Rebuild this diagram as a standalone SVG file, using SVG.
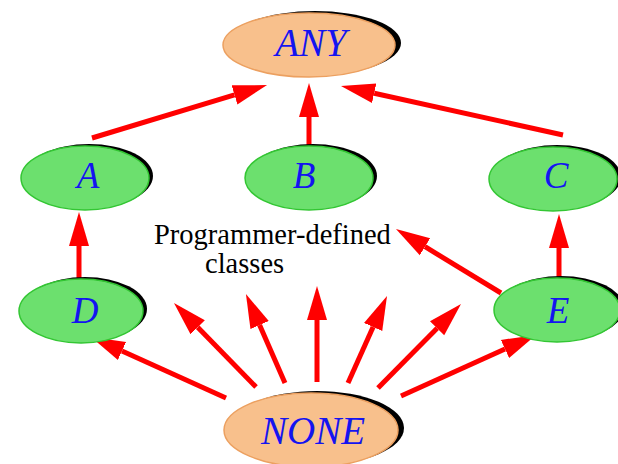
<svg xmlns="http://www.w3.org/2000/svg" width="618" height="464" viewBox="0 0 618 464">
<style>
.shadow{fill:#000}
.green{fill:#6ce06e;stroke:#33c633;stroke-width:1.5}
.orange{fill:#f8c08c;stroke:#eca060;stroke-width:1.5}
.lbl{font-family:"Liberation Serif","Times New Roman",serif;font-style:italic;fill:#1414f0;text-anchor:middle}
.small{font-size:37px}
.big{font-size:39px}
.note{font-family:"Liberation Serif","Times New Roman",serif;font-size:28.5px;fill:#000}
.arr{stroke:#ff0000;stroke-width:5;fill:none;marker-end:url(#head)}
</style>
<defs>
<marker id="head" markerUnits="userSpaceOnUse" markerWidth="40" markerHeight="24" viewBox="0 -12 40 24" refX="0" refY="0" orient="auto">
<path d="M0,-10 L34,0 L0,10 z" fill="#ff0000"/>
</marker>
</defs>
<g id="connectors">
<line class="arr" x1="92" y1="138" x2="234.5" y2="94.9"/>
<line class="arr" x1="309" y1="146" x2="309" y2="117"/>
<line class="arr" x1="563" y1="135" x2="374.2" y2="93.3"/>
<line class="arr" x1="79" y1="278" x2="79" y2="246"/>
<line class="arr" x1="559" y1="280" x2="559" y2="248"/>
<line class="arr" x1="501" y1="293" x2="425" y2="246.7"/>
<line class="arr" x1="226" y1="398" x2="122" y2="351"/>
<line class="arr" x1="256" y1="387" x2="197.7" y2="327.3"/>
<line class="arr" x1="285" y1="383" x2="259.6" y2="325.1"/>
<line class="arr" x1="317" y1="382" x2="317" y2="320"/>
<line class="arr" x1="348" y1="383" x2="373.1" y2="327"/>
<line class="arr" x1="378" y1="388" x2="437.1" y2="328.2"/>
<line class="arr" x1="401" y1="396" x2="505" y2="349"/>
</g>
<g id="ANY">
<ellipse class="shadow" cx="315" cy="43" rx="86" ry="32"/>
<ellipse class="orange" cx="309" cy="45" rx="86" ry="32"/>
<text class="lbl big" x="311" y="56">ANY</text>
</g>
<g id="A">
<ellipse class="shadow" cx="89" cy="176" rx="64" ry="32"/>
<ellipse class="green" cx="85" cy="178" rx="64" ry="32"/>
<text class="lbl small" x="88" y="188">A</text>
</g>
<g id="B">
<ellipse class="shadow" cx="313" cy="176" rx="64" ry="32"/>
<ellipse class="green" cx="309" cy="178" rx="64" ry="32"/>
<text class="lbl small" x="304" y="188">B</text>
</g>
<g id="C">
<ellipse class="shadow" cx="557" cy="177" rx="64" ry="32"/>
<ellipse class="green" cx="553" cy="179" rx="64" ry="32"/>
<text class="lbl small" x="556" y="188">C</text>
</g>
<g id="D">
<ellipse class="shadow" cx="85" cy="309" rx="62" ry="32"/>
<ellipse class="green" cx="81" cy="311" rx="62" ry="32"/>
<text class="lbl small" x="85" y="323">D</text>
</g>
<g id="E">
<ellipse class="shadow" cx="561" cy="308" rx="63" ry="32"/>
<ellipse class="green" cx="557" cy="310" rx="63" ry="32"/>
<text class="lbl small" x="558" y="323">E</text>
</g>
<g id="NONE">
<ellipse class="shadow" cx="317" cy="428" rx="87" ry="37"/>
<ellipse class="orange" cx="311" cy="430" rx="87" ry="37"/>
<text class="lbl big" x="313" y="444">NONE</text>
</g>
<g id="label">
<text class="note" x="154" y="244">Programmer-defined</text>
<text class="note" x="205" y="273">classes</text>
</g>
</svg>
